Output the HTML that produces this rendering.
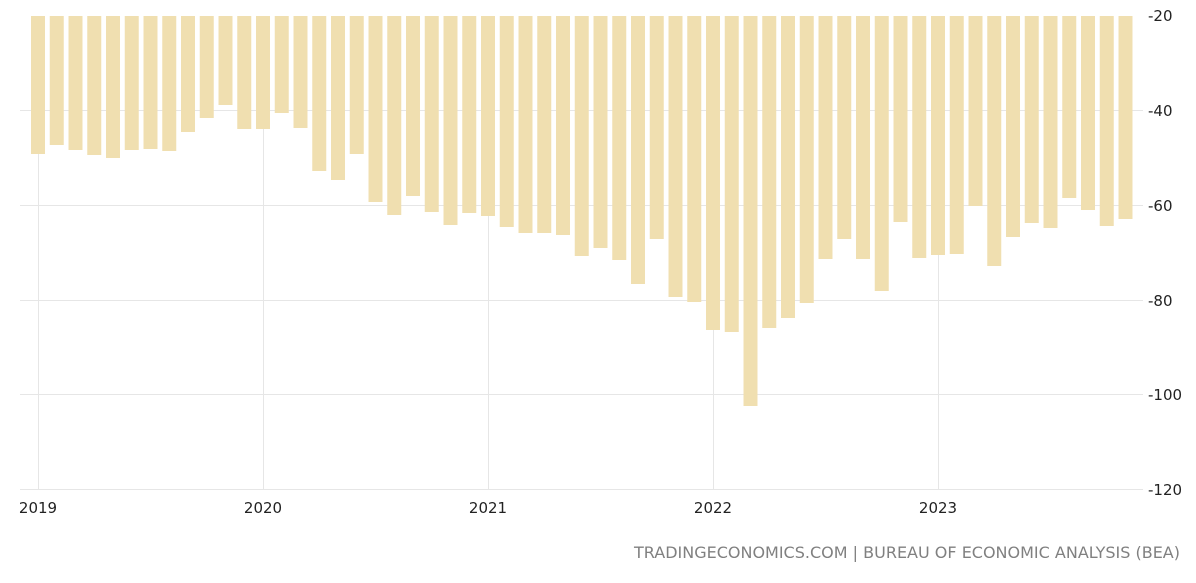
<!DOCTYPE html>
<html><head><meta charset="utf-8"><style>
body{margin:0;background:#fff;width:1196px;height:578px;overflow:hidden}
text{font-family:"DejaVu Sans","Liberation Sans",sans-serif;font-size:15px;fill:#222}
</style></head><body>
<svg width="1196" height="578" xmlns="http://www.w3.org/2000/svg">
<g stroke="#e6e6e6" stroke-width="1">
<line x1="20" x2="1143" y1="110.5" y2="110.5"/>
<line x1="20" x2="1143" y1="205.5" y2="205.5"/>
<line x1="20" x2="1143" y1="300.5" y2="300.5"/>
<line x1="20" x2="1143" y1="394.5" y2="394.5"/>
<line x1="20" x2="1143" y1="489.5" y2="489.5"/>
<line x1="38.5" x2="38.5" y1="16" y2="489"/>
<line x1="263.5" x2="263.5" y1="16" y2="489"/>
<line x1="488.5" x2="488.5" y1="16" y2="489"/>
<line x1="713.5" x2="713.5" y1="16" y2="489"/>
<line x1="938.5" x2="938.5" y1="16" y2="489"/>
</g>
<g fill="#f0dfb0" id="bars"></g>
<g text-anchor="start">
<text x="1148" y="21">-20</text>
<text x="1148" y="116">-40</text>
<text x="1148" y="211">-60</text>
<text x="1148" y="306">-80</text>
<text x="1148" y="400">-100</text>
<text x="1148" y="495">-120</text>
</g>
<g text-anchor="middle">
<text x="38" y="513">2019</text>
<text x="263" y="513">2020</text>
<text x="488" y="513">2021</text>
<text x="713" y="513">2022</text>
<text x="938" y="513">2023</text>
</g>
<text x="1180" y="558" text-anchor="end" textLength="546" style="fill:#808080;font-size:16px">TRADINGECONOMICS.COM | BUREAU OF ECONOMIC ANALYSIS (BEA)</text>
</svg>
<script>
var b=[154,145,150,155,158,150,149,151,132,118,105,129,129,113,128,171,180,154,202,215,196,212,225,213,216,227,233,233,235,256,248,260,284,239,297,302,330,332,406,328,318,303,259,239,259,291,222,258,255,254,206,266,237,223,228,198,210,226,219];
var g=document.getElementById('bars'),s='';
for(var i=0;i<b.length;i++){s+='<rect x="'+(31+18.75*i)+'" y="16" width="14" height="'+(b[i]-16)+'"/>';}
g.innerHTML=s;
</script>
</body></html>
